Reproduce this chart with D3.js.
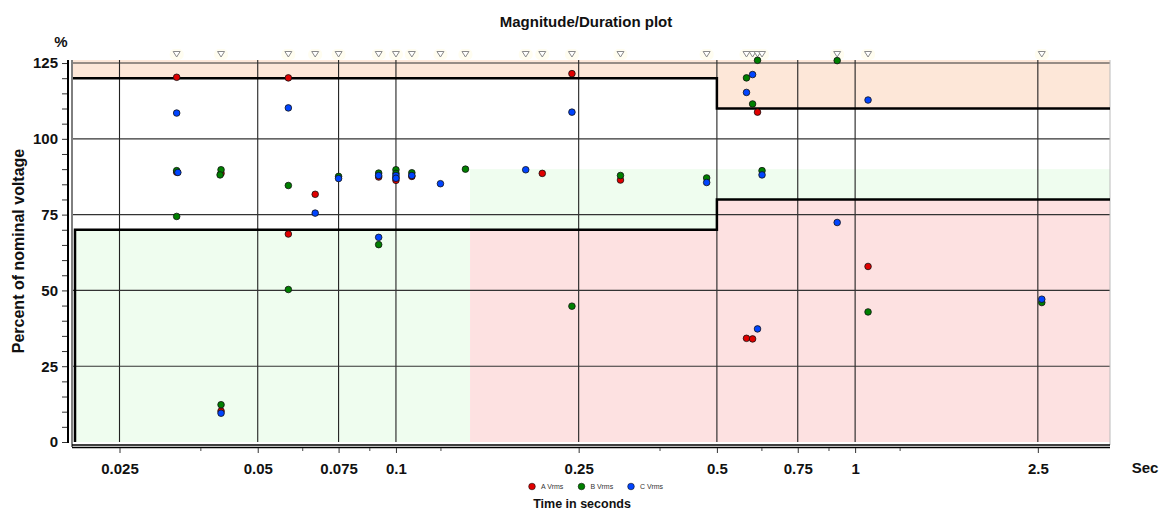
<!DOCTYPE html>
<meta charset="utf-8">
<style>
  body { margin: 0; background: #fff; }
  text { font-family: Arial, "Liberation Sans", sans-serif; }
</style>
<svg width="1163" height="510"></svg>
<script src="https://d3js.org/d3.v7.min.js"></script>
<script>
// event durations (top markers), seconds
const eventDurations = [0.0333, 0.0416, 0.0583, 0.0667, 0.075, 0.0917, 0.1, 0.1083, 0.125, 0.1417,
  0.1917, 0.2083, 0.2417, 0.3083, 0.475, 0.58, 0.598, 0.613, 0.627, 0.914, 1.067, 2.55];

// [duration s, % of nominal]
const phaseA = [[0.0333, 120.3], [0.0333, 89.0], [0.0416, 88.6], [0.0416, 10.2], [0.0583, 120.1], [0.0583, 68.6],
  [0.0667, 81.7], [0.0917, 87.4], [0.1, 86.3], [0.1, 87.2], [0.1083, 87.6], [0.2083, 88.6], [0.2417, 121.5],
  [0.3083, 86.4], [0.58, 34.2], [0.598, 34.0], [0.613, 108.8], [1.067, 57.9]];
const phaseB = [[0.0333, 89.5], [0.0333, 74.4], [0.0416, 89.8], [0.0414, 88.1], [0.0416, 12.3], [0.0583, 84.6],
  [0.0583, 50.3], [0.075, 87.6], [0.0917, 88.7], [0.0917, 65.1], [0.1, 89.8], [0.1, 88.6], [0.1083, 88.8],
  [0.1417, 90.0], [0.2417, 44.8], [0.3083, 87.9], [0.475, 87.1], [0.58, 120.1], [0.598, 111.5],
  [0.613, 125.9], [0.627, 89.5], [0.914, 125.8], [1.067, 42.9], [2.55, 46.0]];
const phaseC = [[0.0333, 108.5], [0.0335, 88.9], [0.0416, 9.5], [0.0583, 110.2], [0.0667, 75.5], [0.075, 86.9],
  [0.0917, 87.9], [0.0917, 67.5], [0.1, 87.9], [0.1, 87.0], [0.1083, 87.9], [0.125, 85.2], [0.1917, 89.8],
  [0.2417, 108.8], [0.475, 85.6], [0.58, 115.3], [0.598, 121.2], [0.613, 37.3], [0.627, 88.1], [0.914, 72.4],
  [1.067, 112.8], [2.55, 47.1]];

const seriesNames = ["A Vrms", "B Vrms", "C Vrms"];
const seriesColors = ["#e00000", "#008000", "#0044ff"];

// limit curves
const upperLimit = [[0.0198, 120], [0.5, 120], [0.5, 110], [3.59, 110]];
const lowerLimit = [[0.02, 0], [0.02, 70], [0.5, 70], [0.5, 80], [3.59, 80]];
const zoneEdge = 0.145, zoneTop = 90;

const xMajor = [0.025, 0.05, 0.075, 0.1, 0.25, 0.5, 0.75, 1, 2.5];
const xMinor = [0.0375, 0.0625, 0.0875, 0.125, 0.375, 0.625, 0.875, 1.25];
const yMajor = [0, 25, 50, 75, 100, 125];

const svg = d3.select("svg");
const x = d3.scaleLog().domain([0.0198, 3.59]).range([73, 1110]);
const y = d3.scaleLinear().domain([0, 126]).range([442, 60]);
const x0 = x.range()[0], x1 = x.range()[1], yT = y.range()[1];

// zones
const line = d3.line().x(d => x(d[0])).y(d => y(d[1]));
const area = d3.area().x(d => x(d[0])).y1(d => y(d[1])).y0(yT);
svg.append("path").attr("d", area(upperLimit)).attr("fill", "#fde7d8");
svg.append("rect").attr("x", x(0.02)).attr("y", y(70)).attr("width", x(zoneEdge) - x(0.02))
  .attr("height", y(0) - y(70)).attr("fill", "#effdef");
svg.append("rect").attr("x", x(zoneEdge)).attr("y", y(zoneTop)).attr("width", x1 - x(zoneEdge))
  .attr("height", y(0) - y(zoneTop)).attr("fill", "#effdef");
const pinkArea = d3.area().x(d => x(d[0])).y0(y(0)).y1(d => y(d[1]));
svg.append("path").attr("d", pinkArea([[zoneEdge, 70], [0.5, 70], [0.5, 80], [3.59, 80]])).attr("fill", "#fde1e1");

// grid
svg.append("g").selectAll("line").data(xMajor).join("line")
  .attr("x1", d => x(d)).attr("x2", d => x(d)).attr("y1", yT).attr("y2", y(0))
  .attr("stroke", "#222").attr("stroke-width", 1.1);
svg.append("g").selectAll("line").data(yMajor.filter(d => d > 0)).join("line")
  .attr("x1", x0).attr("x2", x1).attr("y1", d => y(d)).attr("y2", d => y(d))
  .attr("stroke", "#333").attr("stroke-width", 1.1);
svg.append("line").attr("x1", x1).attr("x2", x1).attr("y1", yT).attr("y2", 445)
  .attr("stroke", "#bbb");

// limit lines
svg.append("path").attr("d", line(upperLimit)).attr("fill", "none").attr("stroke", "#000").attr("stroke-width", 2.5);
svg.append("path").attr("d", line(lowerLimit)).attr("fill", "none").attr("stroke", "#000").attr("stroke-width", 2.5);

// axes
const yAxis = d3.axisLeft(y).tickValues(d3.range(0, 126, 5)).tickSize(6).tickPadding(4)
  .tickFormat(d => yMajor.includes(d) ? d : "");
const gy = svg.append("g").attr("transform", "translate(68,0)").call(yAxis);
gy.select(".domain").remove();
gy.selectAll("line").attr("stroke", "#333");
gy.selectAll("text").attr("font-size", 15).attr("font-weight", "bold").attr("fill", "#111");
svg.append("line").attr("x1", 68).attr("x2", 68).attr("y1", yT).attr("y2", 443).attr("stroke", "#000").attr("stroke-width", 2);
svg.append("line").attr("x1", 72).attr("x2", 72).attr("y1", yT).attr("y2", 447).attr("stroke", "#000").attr("stroke-width", 1);
svg.append("line").attr("x1", 72).attr("x2", x1).attr("y1", 445).attr("y2", 445).attr("stroke", "#000").attr("stroke-width", 1.3);
svg.append("line").attr("x1", 72).attr("x2", x1).attr("y1", 447.5).attr("y2", 447.5).attr("stroke", "#000").attr("stroke-width", 1.3);

const gx = svg.append("g").attr("transform", "translate(0,448)")
  .call(d3.axisBottom(x).tickValues(xMajor).tickSize(5).tickPadding(10).tickFormat(d3.format("")));
gx.select(".domain").remove();
gx.selectAll("line").attr("stroke", "#333");
gx.selectAll("text").attr("font-size", 15).attr("font-weight", "bold").attr("fill", "#111");
const gxm = svg.append("g").attr("transform", "translate(0,448)")
  .call(d3.axisBottom(x).tickValues(xMinor).tickSize(3).tickFormat(""));
gxm.select(".domain").remove();
gxm.selectAll("line").attr("stroke", "#444");

svg.append("text").attr("x", 1145).attr("y", 472.5).attr("text-anchor", "middle")
  .attr("font-size", 15).attr("font-weight", "bold").attr("fill", "#111").text("Sec");
svg.append("text").attr("x", 61).attr("y", 47).attr("text-anchor", "middle")
  .attr("font-size", 15).attr("font-weight", "bold").attr("fill", "#111").text("%");
svg.append("text").attr("x", 586).attr("y", 27).attr("text-anchor", "middle")
  .attr("font-size", 15).attr("font-weight", "bold").attr("fill", "#111").text("Magnitude/Duration plot");
svg.append("text").attr("transform", "translate(24,251) rotate(-90)").attr("text-anchor", "middle")
  .attr("font-size", 16).attr("font-weight", "bold").attr("fill", "#111").text("Percent of nominal voltage");
svg.append("text").attr("x", 582).attr("y", 508).attr("text-anchor", "middle")
  .attr("font-size", 12.5).attr("font-weight", "bold").attr("fill", "#111").text("Time in seconds");

// event markers
const gm = svg.append("g");
gm.selectAll("rect").data(eventDurations).join("rect")
  .attr("x", d => x(d) - 7).attr("y", 49).attr("width", 14).attr("height", 11).attr("rx", 5)
  .attr("fill", "#fffdf0");
gm.selectAll("path").data(eventDurations).join("path")
  .attr("d", d => `M${x(d) - 3.5},51.5 L${x(d) + 3.5},51.5 L${x(d)},57 Z`)
  .attr("fill", "#fff").attr("stroke", "#8a8a8a").attr("stroke-width", 1);

// points
[phaseA, phaseB, phaseC].forEach((s, i) => {
  svg.append("g").selectAll("circle").data(s).join("circle")
    .attr("cx", d => x(d[0])).attr("cy", d => y(d[1])).attr("r", 3.3)
    .attr("fill", seriesColors[i]).attr("stroke", "#111").attr("stroke-width", 0.8);
});

// legend
const lg = svg.append("g").selectAll("g").data(seriesNames).join("g")
  .attr("transform", (d, i) => `translate(${532 + i * 49.5},486.5)`);
lg.append("circle").attr("r", 3.3).attr("fill", (d, i) => seriesColors[i]).attr("stroke", "#111").attr("stroke-width", 0.6);
lg.append("text").attr("x", 9).attr("y", 2.5).attr("font-size", 7).attr("fill", "#333").text(d => d);
</script>
